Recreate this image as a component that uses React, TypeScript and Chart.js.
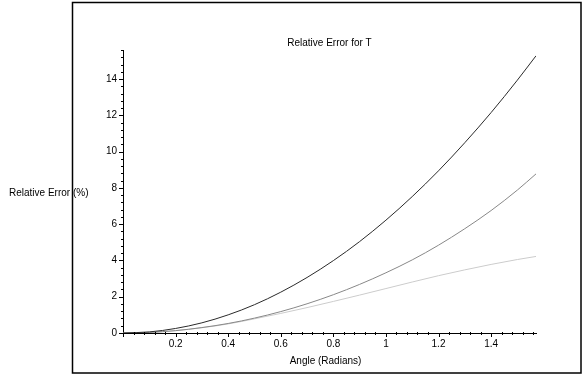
import React, { useEffect, useRef } from "react";
import { Chart, registerables } from "chart.js";

Chart.register(...registerables);

// Data
const angles = [0, 0.1, 0.2, 0.3, 0.4, 0.5, 0.6, 0.7, 0.8, 0.9, 1.0, 1.1, 1.2, 1.3, 1.4, 1.5, 1.5708];
const errorDark = [0, 0.06, 0.25, 0.56, 1.0, 1.56, 2.25, 3.06, 3.99, 5.04, 6.22, 7.52, 8.94, 10.49, 12.15, 13.94, 15.28];
const errorMid = [0, 0.033, 0.13, 0.3, 0.525, 0.82, 1.18, 1.61, 2.11, 2.68, 3.32, 4.03, 4.84, 5.75, 6.75, 7.88, 8.77];
const errorLight = [0, 0.03, 0.13, 0.29, 0.5, 0.78, 1.08, 1.4, 1.74, 2.09, 2.45, 2.81, 3.16, 3.48, 3.78, 4.05, 4.22];

const xMax = 1.5708;
const yMax = 15.6;
const xMajorStep = 0.2;
const xMinorStep = 0.04;
const yMajorStep = 2;
const yMinorStep = 0.4;

const titleText = "Relative Error for T";
const xTitleText = "Angle (Radians)";
const yTitleText = "Relative Error (%)";

const FONT = "'Liberation Sans', Arial, Helvetica, sans-serif";

const decorPlugin = {
  id: "decor",
  afterDraw(chart: any) {
    const { ctx, chartArea, scales } = chart;
    const x = scales.x;
    const y = scales.y;
    ctx.save();
    // outer frame
    ctx.strokeStyle = "#000";
    ctx.lineWidth = 1.5;
    ctx.strokeRect(72.5, 2.5, 508.5, 370.5);

    // tick marks
    ctx.lineWidth = 1;
    ctx.strokeStyle = "#000";
    const nX = Math.floor(xMax / xMinorStep + 1e-6);
    for (let i = 0; i <= nX; i++) {
      const v = i * xMinorStep;
      const major = i % Math.round(xMajorStep / xMinorStep) === 0;
      const px = Math.round(x.getPixelForValue(v)) + 0.5;
      ctx.beginPath();
      ctx.moveTo(px, chartArea.bottom - (major ? 0 : 1));
      ctx.lineTo(px, chartArea.bottom + (major ? 4 : 2));
      ctx.stroke();
    }
    const nY = Math.floor(yMax / yMinorStep + 1e-6);
    for (let i = 0; i <= nY; i++) {
      const v = i * yMinorStep;
      const major = i % Math.round(yMajorStep / yMinorStep) === 0;
      const py = Math.round(y.getPixelForValue(v)) + 0.5;
      ctx.beginPath();
      ctx.moveTo(chartArea.left - (major ? 4 : 2), py);
      ctx.lineTo(chartArea.left + (major ? 0 : 1), py);
      ctx.stroke();
    }

    // texts
    ctx.fillStyle = "#000";
    ctx.font = `10px ${FONT}`;
    ctx.textBaseline = "middle";
    ctx.textAlign = "center";
    ctx.fillText(titleText, (chartArea.left + chartArea.right) / 2, 43);
    ctx.fillText(xTitleText, (chartArea.left + chartArea.right) / 2 - 4, 361);
    ctx.textAlign = "left";
    ctx.fillText(yTitleText, 9, 193);
    ctx.restore();
  },
};

export default function App() {
  const canvasRef = useRef<HTMLCanvasElement | null>(null);

  useEffect(() => {
    const canvas = canvasRef.current;
    if (!canvas) return;
    const mk = (arr: number[]) => angles.map((a, i) => ({ x: a, y: arr[i] }));
    const chart = new Chart(canvas, {
      type: "line",
      data: {
        datasets: [
          { data: mk(errorDark), borderColor: "#2a2a2a", borderWidth: 1, pointRadius: 0, cubicInterpolationMode: "monotone", fill: false },
          { data: mk(errorMid), borderColor: "#888888", borderWidth: 1, pointRadius: 0, cubicInterpolationMode: "monotone", fill: false },
          { data: mk(errorLight), borderColor: "#cccccc", borderWidth: 1, pointRadius: 0, cubicInterpolationMode: "monotone", fill: false },
        ],
      },
      options: {
        animation: false,
        responsive: false,
        maintainAspectRatio: false,
        devicePixelRatio: 1,
        layout: { padding: { left: 0, right: 46, top: 50, bottom: 0 } },
        plugins: { legend: { display: false }, tooltip: { enabled: false }, title: { display: false } },
        scales: {
          x: {
            type: "linear",
            min: 0,
            max: xMax,
            grid: { display: false, drawTicks: false },
            border: { display: true, color: "#000", width: 1 },
            ticks: {
              stepSize: xMajorStep,
              includeBounds: false,
              autoSkip: false,
              maxRotation: 0,
              padding: 5,
              color: "#000",
              font: { size: 10, family: FONT },
              callback: (v: any) => (Number(v) === 0 ? "" : String(Math.round(Number(v) * 10) / 10)),
            },
            afterFit: (s: any) => { s.height = 42; },
          },
          y: {
            type: "linear",
            min: 0,
            max: yMax,
            grid: { display: false, drawTicks: false },
            border: { display: true, color: "#000", width: 1 },
            ticks: {
              stepSize: yMajorStep,
              includeBounds: false,
              autoSkip: false,
              padding: 6,
              color: "#000",
              font: { size: 10, family: FONT },
              callback: (v: any) => String(Math.round(Number(v))),
            },
            afterFit: (s: any) => { s.width = 123; },
          },
        },
      },
      plugins: [decorPlugin],
    } as any);
    return () => chart.destroy();
  }, []);

  return (
    <div style={{ position: "absolute", left: 0, top: 0, width: 582, height: 375, background: "#fff" }}>
      <canvas ref={canvasRef} width={582} height={375} style={{ width: 582, height: 375, display: "block" }} />
    </div>
  );
}
